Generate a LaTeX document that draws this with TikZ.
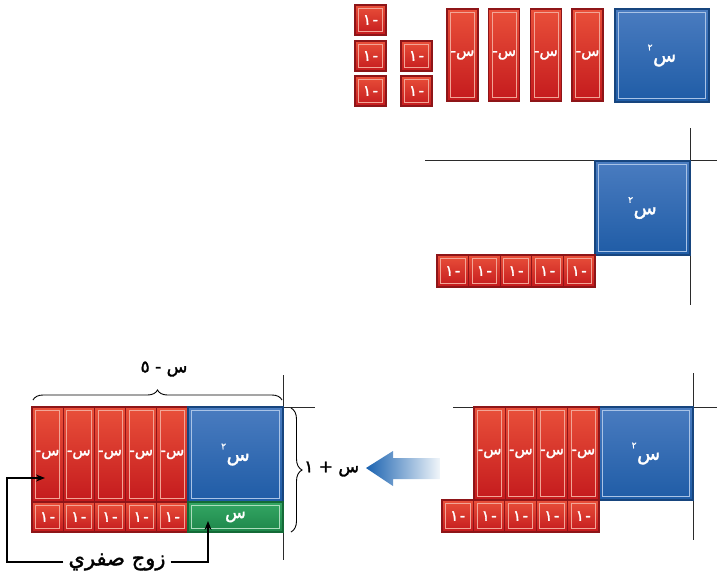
\documentclass[tikz,border=0pt]{standalone}
\usepackage{fontspec}
\newfontfamily\arabicfont[Script=Arabic]{DejaVu Sans}
\newfontfamily\arabicbold[Script=Arabic,FakeBold=1.8]{DejaVu Sans}
\TeXXeTstate=1
\usetikzlibrary{decorations.pathreplacing,arrows.meta}
\definecolor{redtop}{HTML}{E9503A}
\definecolor{redbot}{HTML}{C41A1D}
\definecolor{redline}{HTML}{8E1518}
\definecolor{redinner}{HTML}{F2A596}
\definecolor{bluetop}{HTML}{4A7CC0}
\definecolor{bluebot}{HTML}{1F5CA6}
\definecolor{blueline}{HTML}{17457E}
\definecolor{blueinner}{HTML}{A9C3E6}
\definecolor{greentop}{HTML}{34A664}
\definecolor{greenbot}{HTML}{1D874A}
\definecolor{greenline}{HTML}{146A37}
\definecolor{greeninner}{HTML}{ACDDBD}
\definecolor{axisgray}{HTML}{2B2B2B}
\definecolor{arrowblue}{HTML}{1A62B0}
\newcommand\tnegx{\hbox{-}\hbox{س}}
\newcommand\tnegone{\hbox{١}\hbox{\kern1.5pt-}}
\newcommand\txsq{\hbox{\raisebox{1.1ex}{\fontsize{9}{9}\selectfont ٢}}\kern0.5pt\hbox{س}}
\begin{document}
\begin{tikzpicture}[x=1pt,y=-1pt,
  tile/.style={rectangle, inner sep=0pt, outer sep=0pt, line width=1.3pt, text=white, anchor=north west,
     font=\fontsize{15}{16}\selectfont\arabicbold},
  inset/.style={path picture={\draw[#1, line width=0.7pt]
     ([shift={(3.5pt,-3.5pt)}]path picture bounding box.north west) rectangle
     ([shift={(-3.5pt,3.5pt)}]path picture bounding box.south east);}},
  redt/.style={tile, draw=redline, top color=redtop, bottom color=redbot, inset=redinner},
  bluet/.style={tile, draw=blueline, top color=bluetop, bottom color=bluebot, inset=blueinner,
     minimum width=94pt, minimum height=93pt, font=\fontsize{19}{20}\selectfont\arabicbold},
  greent/.style={tile, draw=greenline, top color=greentop, bottom color=greenbot, inset=greeninner,
     font=\fontsize{17}{18}\selectfont\arabicbold},
  axisline/.style={draw=axisgray, line width=0.9pt},
  conn/.style={draw=black, line width=1.3pt, -{Stealth[length=9pt,width=7pt]}},
  lbl/.style={font=\fontsize{21}{23}\selectfont\arabicbold, inner sep=5pt},
  bracestyle/.style={draw=black, line width=0.9pt, decorate}
]
\useasboundingbox (0,0) rectangle (717,573);

% ---------- panel 1 ----------
\node[redt, minimum width=31pt, minimum height=30pt] (p1s1) at (355,5) {\tnegone};
\node[redt, minimum width=31pt, minimum height=30pt] (p1s2) at (355,41) {\tnegone};
\node[redt, minimum width=31pt, minimum height=30pt] (p1s3) at (355,76) {\tnegone};
\node[redt, minimum width=31pt, minimum height=30pt] (p1s4) at (401,41) {\tnegone};
\node[redt, minimum width=31pt, minimum height=30pt] (p1s5) at (401,76) {\tnegone};
\foreach \i in {0,...,3}
  \node[redt, minimum width=31pt, minimum height=92pt] (p1l\i) at ({447+41.7*\i},9) {\tnegx};
\node[bluet] (p1b) at (615,9) {\txsq};

% ---------- panel 2 ----------
\draw[axisline] (425,160) -- (717,160);
\draw[axisline] (690,128) -- (690,305);
\node[bluet, minimum width=95pt, minimum height=94pt] (p2b) at (595,161) {\txsq};
\foreach \i in {0,...,4}
  \node[redt, minimum width=31.6pt, minimum height=32pt] (p2s\i) at ({437+31.6*\i},255) {\tnegone};

% ---------- panel 3 ----------
\draw[axisline] (453,407) -- (717,407);
\draw[axisline] (693,373) -- (693,540);
\node[bluet] (p3b) at (599,407) {\txsq};
\foreach \i in {0,...,3}
  \node[redt, minimum width=31.25pt, minimum height=93pt] (p3l\i) at ({474+31.25*\i},407) {\tnegx};
\foreach \i in {0,...,4}
  \node[redt, minimum width=31.4pt, minimum height=32pt] (p3s\i) at ({442+31.4*\i},500) {\tnegone};

% arrow
\shade[left color=arrowblue, right color=arrowblue!6]
  (366,468) -- (393,451) -- (393,458) -- (440,458) -- (440,479) -- (393,479) -- (393,486) -- cycle;

% ---------- panel 4 ----------
\draw[axisline] (283,375) -- (283,560);
\draw[axisline] (32,407) -- (315,407);
\foreach \i in {0,...,4}
  \node[redt, minimum width=31.2pt, minimum height=95pt] (p4l\i) at ({32+31.2*\i},407) {\tnegx};
\node[bluet, minimum width=95pt, minimum height=95pt] (p4b) at (188,407) {\txsq};
\foreach \i in {0,...,4}
  \node[redt, minimum width=31.2pt, minimum height=30pt] (p4s\i) at ({32+31.2*\i},502) {\tnegone};
\node[greent, minimum width=95pt, minimum height=30pt] (p4g) at (188,502) {س};

% braces
\coordinate (tbl) at (33,400);
\coordinate (tbr) at (282,400);
\draw[bracestyle, decoration={brace, amplitude=10pt}] (tbl) -- (tbr);
\node[font=\fontsize{17}{18}\selectfont\arabicbold, inner sep=0pt] (toplbl) at (164,369)
  {\hbox{٥}\hbox{\ -\ }\hbox{س}};
\coordinate (rbt) at (291,408);
\coordinate (rbb) at (291,532);
\draw[bracestyle, decoration={brace, amplitude=11pt}] (rbt) -- (rbb);
\node[font=\fontsize{17}{18}\selectfont\arabicbold, inner sep=0pt, anchor=west] (sidelbl) at (304,469)
  {\hbox{١}\hbox{\ +\ }\hbox{س}};

% zero pair label and connectors
\node[lbl] (zp) at (117,562) {\beginR زوج صفري\endR};
\coordinate (lcorner) at (7,478);
\coordinate (ltip) at (45,478);
\coordinate (gtip) at (208,521);
\draw[conn] (zp.west) -- (zp.west -| lcorner) -- (lcorner) -- (ltip);
\draw[conn] (zp.east) -| (gtip);
\end{tikzpicture}
\end{document}
